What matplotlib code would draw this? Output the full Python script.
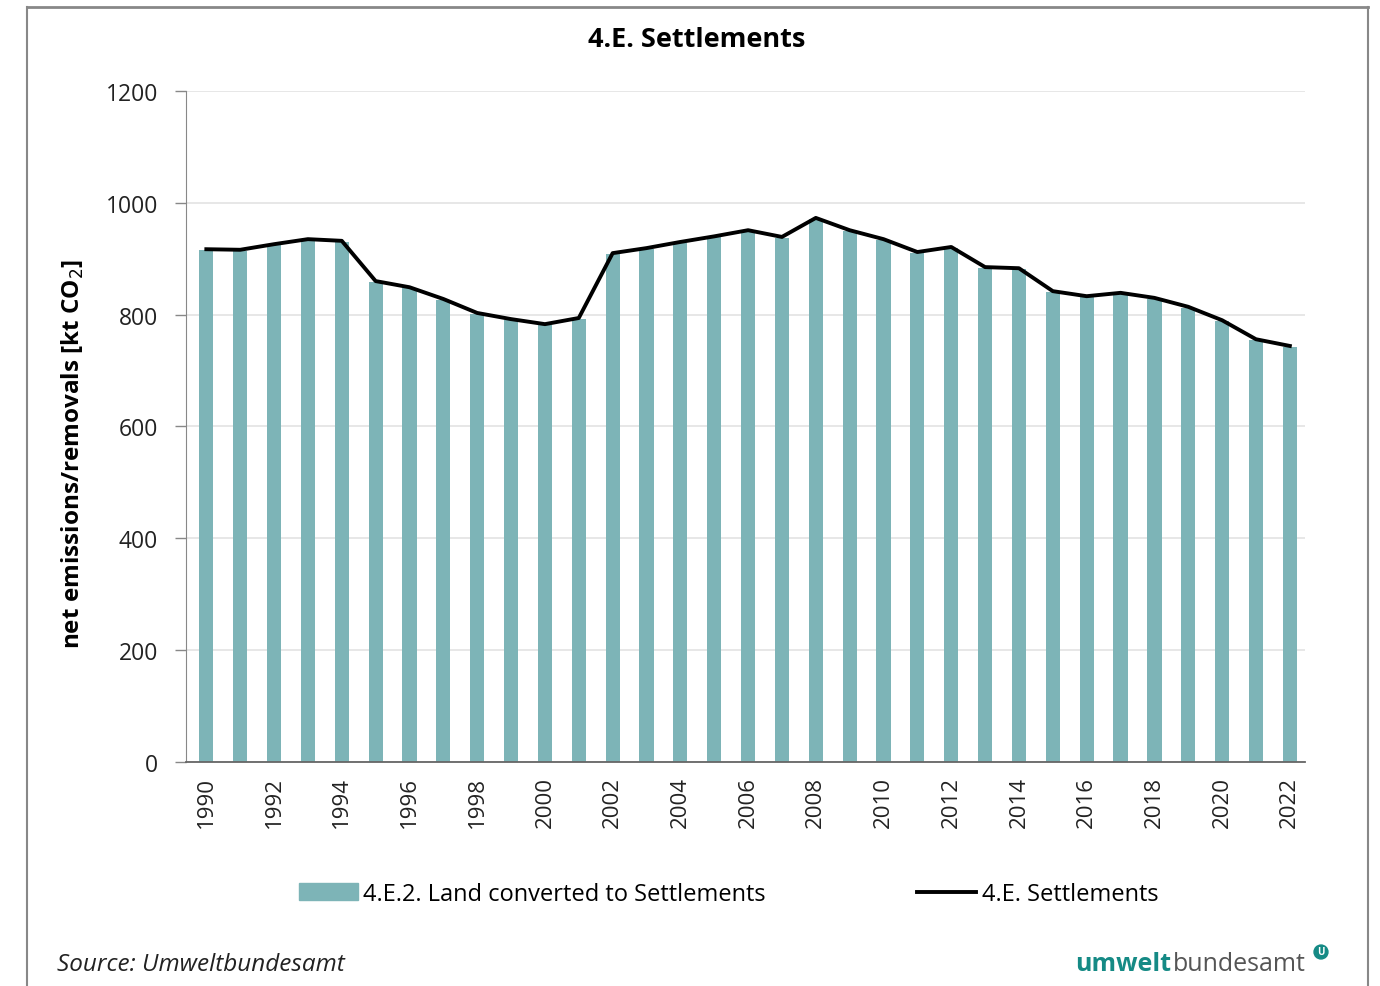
import matplotlib.pyplot as plt
import matplotlib.lines as mlines
import matplotlib.patches as mpatches
import numpy as np

plt.rcParams['font.family'] = ['Open Sans', 'DejaVu Sans']

years = list(range(1990, 2023))
# 4.E. Settlements total (line)
settlements = [917, 916, 926, 935, 932, 860, 849, 828, 803, 792, 783, 794,
               910, 919, 930, 940, 951, 939, 973, 951, 935, 912, 921, 885,
               883, 842, 833, 839, 830, 814, 790, 756, 744]
# 4.E.2. Land converted to Settlements (bars)
land_converted = [915, 914, 924, 933, 930, 858, 847, 826, 801, 790, 781, 792,
                  908, 917, 928, 938, 949, 937, 971, 949, 933, 910, 919, 883,
                  881, 840, 831, 837, 828, 812, 788, 754, 742]
tick_years = [str(y) for y in range(1990, 2023, 2)]

bar_color = '#7DB4B7'

fig = plt.figure(figsize=(13.8, 9.87), dpi=100)
ax = fig.add_axes([0.1348, 0.2270, 0.8109, 0.6798])

x = np.arange(len(years))
ax.bar(x, land_converted, width=0.42, color=bar_color, zorder=2)
ax.plot(x, settlements, color='black', lw=2.8, zorder=3, solid_joinstyle='round')

ax.set_xlim(-0.6, 32.45)
ax.set_ylim(0, 1200)
ax.set_yticks(range(0, 1201, 200))
ax.set_xticks(x[::2])
ax.set_xticklabels(tick_years, rotation=90, fontsize=16, color='#222222')
ax.tick_params(axis='x', length=0, pad=10)
ax.tick_params(axis='y', length=8, width=1, color='#888888', labelsize=16.5,
               labelcolor='#222222', pad=12)
ax.grid(axis='y', color='#E3E3E3', lw=1.2, zorder=0)
for s in ['top', 'right']:
    ax.spines[s].set_visible(False)
ax.spines['left'].set_color('#888888')
ax.spines['bottom'].set_color('#666666')
ax.spines['bottom'].set_linewidth(1.3)

ax.set_ylabel('net emissions/removals [kt CO$_2$]', fontsize=17.5,
              fontweight='bold')
ax.yaxis.set_label_coords(-0.089, 0.46)

fig.text(0.505, 1 - 40/987, '4.E. Settlements', ha='center', va='center',
         fontsize=19.5, fontweight='bold')

h1 = mpatches.Patch(color=bar_color, label='4.E.2. Land converted to Settlements')
h2 = mlines.Line2D([], [], color='black', lw=2.8, label='4.E. Settlements')
fig.legend(handles=[h1, h2], loc='center', bbox_to_anchor=(0.528, 1 - 895/987),
           ncol=2, frameon=False, fontsize=17, handlelength=2.5,
           handletextpad=0.25, columnspacing=6.4)

fig.text(57/1380, 1 - 965/987, 'Source: Umweltbundesamt', fontsize=17.5,
         style='italic', va='center', color='#222222')
fig.text(1075/1380, 1 - 965/987, 'umwelt', fontsize=18, fontweight='bold',
         color='#158A85', va='center')
fig.text(1173/1380, 1 - 965/987, 'bundesamt', fontsize=18, color='#555555',
         va='center')
fig.text(1321/1380, 1 - 953/987, 'U', fontsize=7, color='white',
         va='center', ha='center', fontweight='bold',
         bbox=dict(boxstyle='circle,pad=0.15', fc='#158A85', ec='#158A85'))

# outer frame
fx0, fx1 = 27/1380, 1368/1380
fy0, fy1 = -0.01, 1 - 8/987
fig.add_artist(mlines.Line2D([fx0, fx1], [fy1, fy1], color='#888888', lw=2))
fig.add_artist(mlines.Line2D([fx0, fx0], [fy0, fy1], color='#888888', lw=1.5))
fig.add_artist(mlines.Line2D([fx1, fx1], [fy0, fy1], color='#888888', lw=1.5))

fig.savefig('out.png', dpi=100, facecolor='white')
